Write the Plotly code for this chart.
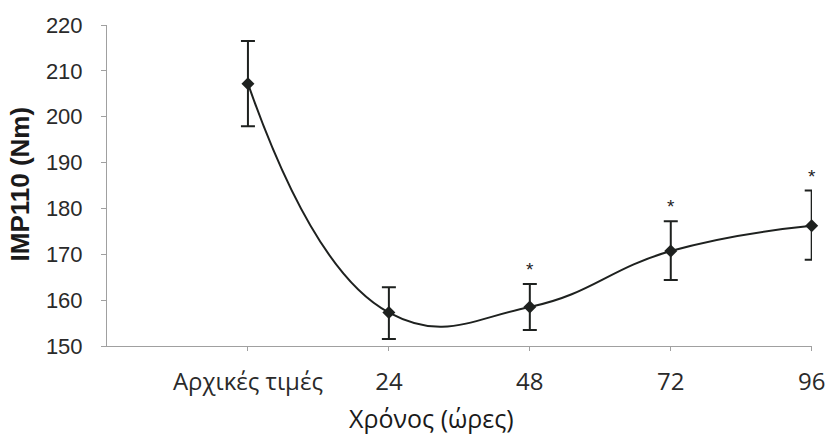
import plotly.graph_objects as go

# Measurement times (hours); 0 is the baseline ("initial values")
hours = [0, 24, 48, 72, 96]
tick_labels = ["Αρχικές τιμές", "24", "48", "72", "96"]

# Mean IMP110 (Nm) with upper / lower error half-widths
imp110 = [207.2, 157.3, 158.5, 170.7, 176.2]
err_up = [9.3, 5.5, 5.0, 6.5, 7.7]
err_down = [9.3, 5.8, 5.0, 6.3, 7.4]

# Significance markers per time point
signif = ["", "", "*", "*", "*"]

y_ticks = [150, 160, 170, 180, 190, 200, 210, 220]

ink = "#1e211f"
axis_grey = "#a0a0a0"

fig = go.Figure()

fig.add_trace(go.Scatter(
    x=hours,
    y=imp110,
    mode="lines+markers",
    line=dict(color=ink, width=2, shape="spline", smoothing=1.3),
    marker=dict(symbol="diamond", size=10, color=ink),
    error_y=dict(
        type="data",
        symmetric=False,
        array=err_up,
        arrayminus=err_down,
        color=ink,
        thickness=2,
        width=7,
    ),
    showlegend=False,
    hoverinfo="skip",
    cliponaxis=False,
))

for xv, yv, up, s in zip(hours, imp110, err_up, signif):
    if s:
        fig.add_annotation(
            x=xv, y=yv + up, text=s, showarrow=False,
            yanchor="bottom", yshift=2,
            font=dict(family="Liberation Sans, Arial", size=19, color=ink),
        )

# Axis titles placed as free text
fig.add_annotation(
    text="Χρόνος (ώρες)", xref="paper", yref="paper",
    x=0.46, y=-0.225, xanchor="center", yanchor="middle", showarrow=False,
    font=dict(family="Open Sans", size=25, color="#1a1a1a"),
)
fig.add_annotation(
    text="<b>IMP110 (Nm)</b>", xref="paper", yref="paper",
    x=-0.124, y=0.505, xanchor="center", yanchor="middle", showarrow=False,
    textangle=-90,
    font=dict(family="Liberation Sans, Arial", size=26, color="#1a1a1a"),
)

fig.update_layout(
    width=828,
    height=440,
    margin=dict(l=107, r=16, t=25, b=94, autoexpand=False),
    paper_bgcolor="white",
    plot_bgcolor="white",
    xaxis=dict(
        range=[-24, 96.05],
        tickvals=hours,
        ticktext=tick_labels,
        automargin=False,
        showgrid=False,
        zeroline=False,
        showline=True,
        linecolor=axis_grey,
        linewidth=1,
        ticks="outside",
        ticklen=4,
        tickcolor=axis_grey,
        ticklabelstandoff=10,
        ticklabeloverflow="allow",
        tickfont=dict(family="Open Sans", size=24, color="#2a2a2a"),
    ),
    yaxis=dict(
        range=[150, 220],
        tickvals=y_ticks,
        automargin=False,
        showgrid=False,
        zeroline=False,
        showline=True,
        linecolor=axis_grey,
        linewidth=1,
        ticks="outside",
        ticklen=5,
        tickcolor=axis_grey,
        ticklabelstandoff=14,
        tickfont=dict(family="Liberation Sans, Arial", size=22, color="#2a2a2a"),
    ),
)

fig.write_html("out.html")
